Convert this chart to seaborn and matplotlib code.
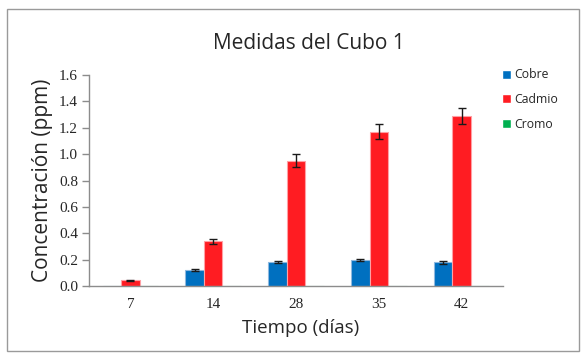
import numpy as np
import pandas as pd
import matplotlib
matplotlib.use("Agg")
import matplotlib.pyplot as plt
import seaborn as sns
from matplotlib.patches import Rectangle

# Datos del grafico
dias = ['7', '14', '28', '35', '42']
cobre = [0.0, 0.12, 0.18, 0.20, 0.18]
cobre_err = [0.0, 0.008, 0.008, 0.008, 0.012]
cadmio = [0.045, 0.34, 0.95, 1.17, 1.29]
cadmio_err = [0.004, 0.02, 0.05, 0.055, 0.06]
cromo = [0.0, 0.0, 0.0, 0.0, 0.0]
cromo_err = [0.0, 0.0, 0.0, 0.0, 0.0]

metales = ['Cobre', 'Cadmio', 'Cromo']
colores = ['#0070C0', '#FF1C22', '#00B050']
bordes = ['#8FB8DE', '#FFA0A4', '#90DDA8']

df = pd.DataFrame({
    'Tiempo': dias * 3,
    'Metal': np.repeat(metales, len(dias)),
    'Valor': cobre + cadmio + cromo,
})
errores = [cobre_err, cadmio_err, cromo_err]

sns.set_style('white')
plt.rcParams['font.family'] = ['Open Sans', 'DejaVu Sans']

fig = plt.figure(figsize=(5.83, 3.61), dpi=100)
ax = fig.add_axes([0.1527, 0.2078, 0.7101, 0.5844])

sns.barplot(data=df, x='Tiempo', y='Valor', hue='Metal', order=dias,
            hue_order=metales, palette=colores, errorbar=None,
            width=0.67, saturation=1, ax=ax)

# bordes y barras de error
for cont, borde, err in zip(ax.containers, bordes, errores):
    for patch, e in zip(cont.patches, err):
        patch.set_edgecolor(borde)
        patch.set_linewidth(0.8)
        if e > 0:
            xc = patch.get_x() + patch.get_width() / 2
            ax.errorbar(xc, patch.get_height(), yerr=e, fmt='none',
                        ecolor='#1a1a1a', elinewidth=1, capsize=3, capthick=1)

ax.set_ylim(0, 1.6)
ax.set_xlim(-0.5, len(dias) - 0.5)
ax.set_yticks(np.arange(0, 1.61, 0.2))
ax.set_yticklabels([f'{v:.1f}' for v in np.arange(0, 1.61, 0.2)],
                   family='Liberation Serif', fontsize=11)
ax.set_xticklabels(dias, family='Liberation Serif', fontsize=11)
ax.set_xticks(np.arange(-0.5, len(dias)), minor=True)
ax.tick_params(axis='x', which='major', length=0, pad=9)
ax.tick_params(axis='x', which='minor', length=4, color='#8c8c8c', width=1, direction='out')
ax.tick_params(axis='y', length=5, color='#8c8c8c', width=1, direction='out', left=True, pad=3)

for s in ['top', 'right']:
    ax.spines[s].set_visible(False)
for s in ['left', 'bottom']:
    ax.spines[s].set_color('#8c8c8c')
    ax.spines[s].set_linewidth(1)

ax.set_xlabel('Tiempo (días)', fontsize=13.5, labelpad=6)
ax.xaxis.set_label_coords(0.51, -0.155)
ax.set_ylabel('Concentración (ppm)', fontsize=15, labelpad=4)
fig.text(0.53, 0.88, 'Medidas del Cubo 1', ha='center', va='center', fontsize=15)

ax.legend(loc='upper left', bbox_to_anchor=(0.985, 1.055), frameon=False,
          fontsize=8.8, handlelength=0.75, handleheight=0.75, handletextpad=0.3,
          labelspacing=0.95, borderaxespad=0)

# marco exterior
fig.patches.append(Rectangle((0.012, 0.028), 0.981, 0.947, transform=fig.transFigure,
                             fill=False, edgecolor='#9a9a9a', linewidth=1))

fig.savefig('out.png', dpi=100)
